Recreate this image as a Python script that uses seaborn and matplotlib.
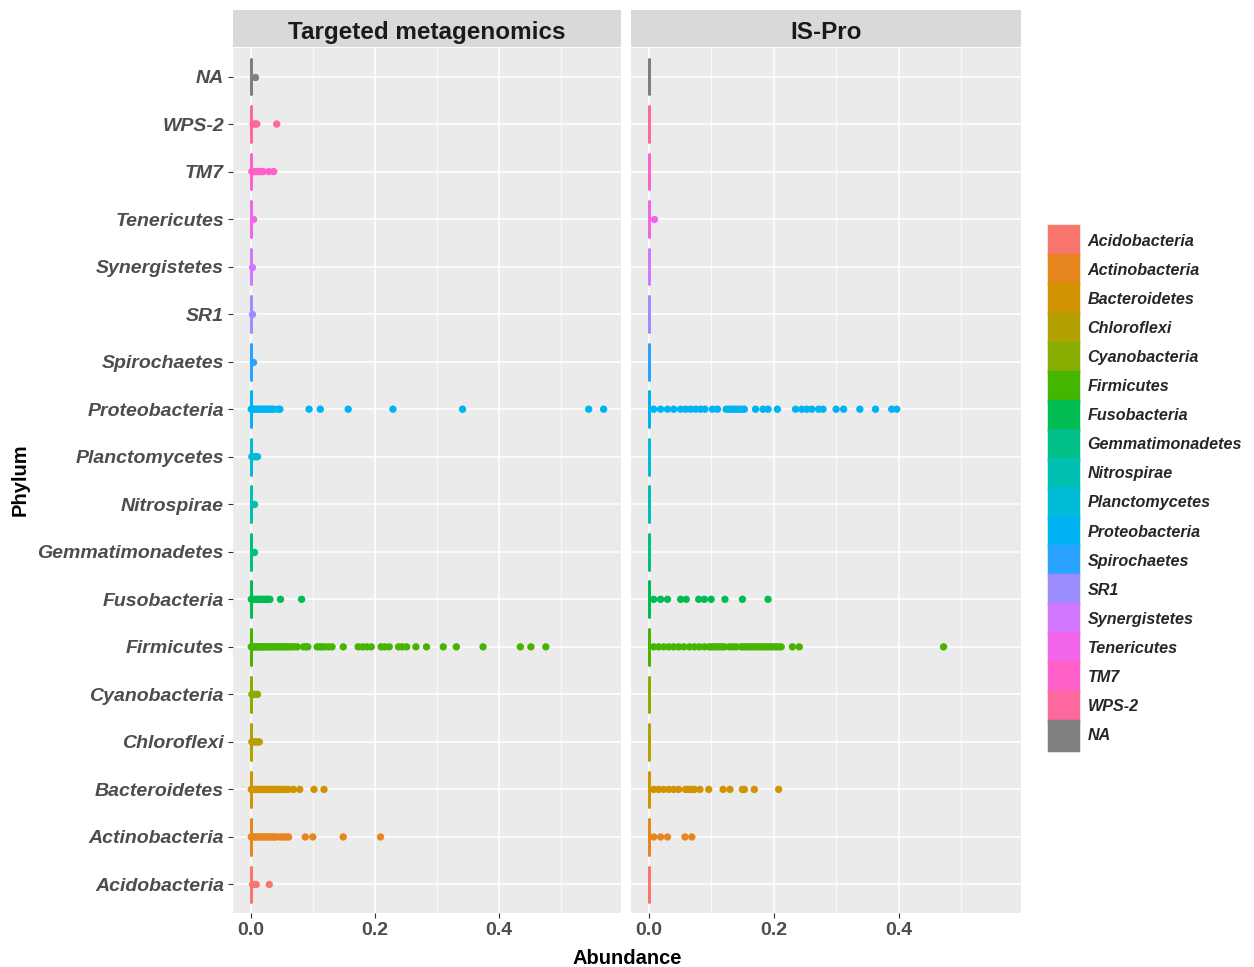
import numpy as np
import pandas as pd
import matplotlib
matplotlib.use("Agg")
import matplotlib.pyplot as plt
from matplotlib.patches import Patch
import seaborn as sns

# ---------------- data ----------------
phyla = ["Acidobacteria", "Actinobacteria", "Bacteroidetes", "Chloroflexi", "Cyanobacteria",
         "Firmicutes", "Fusobacteria", "Gemmatimonadetes", "Nitrospirae", "Planctomycetes",
         "Proteobacteria", "Spirochaetes", "SR1", "Synergistetes", "Tenericutes", "TM7",
         "WPS-2", "NA"]
methods = ["Targeted metagenomics", "IS-Pro"]
n_samples = 400  # samples per phylum per method; the rest are zero abundance

# Targeted metagenomics non-zero abundances
tm_acidobacteria = [0.003, 0.006, 0.009, 0.030]
tm_actinobacteria = [0.001, 0.004, 0.007, 0.010, 0.013, 0.016, 0.019, 0.022, 0.025, 0.028,
                     0.031, 0.034, 0.037, 0.040, 0.046, 0.050, 0.054, 0.058, 0.061,
                     0.088, 0.100, 0.149, 0.209]
tm_bacteroidetes = [0.001, 0.004, 0.007, 0.010, 0.013, 0.016, 0.019, 0.022, 0.025, 0.028,
                    0.031, 0.034, 0.037, 0.040, 0.043, 0.046, 0.050, 0.054, 0.058, 0.061,
                    0.069, 0.079, 0.102, 0.118]
tm_chloroflexi = [0.002, 0.005, 0.008, 0.011, 0.014]
tm_cyanobacteria = [0.002, 0.005, 0.008, 0.011]
tm_firmicutes = [0.001, 0.003, 0.005, 0.007, 0.009, 0.011, 0.013, 0.015, 0.017, 0.019,
                 0.021, 0.023, 0.026, 0.029, 0.032, 0.035, 0.038, 0.041, 0.044, 0.047,
                 0.050, 0.053, 0.056, 0.059, 0.062, 0.066, 0.070, 0.075, 0.085, 0.089,
                 0.092, 0.107, 0.111, 0.115, 0.119, 0.125, 0.131, 0.149, 0.173, 0.180,
                 0.187, 0.194, 0.210, 0.216, 0.223, 0.238, 0.244, 0.251, 0.266, 0.283,
                 0.310, 0.331, 0.374, 0.434, 0.451, 0.475]
tm_fusobacteria = [0.001, 0.004, 0.007, 0.010, 0.013, 0.016, 0.019, 0.022, 0.025, 0.028,
                   0.031, 0.048, 0.082]
tm_gemmatimonadetes = [0.005]
tm_nitrospirae = [0.005]
tm_planctomycetes = [0.002, 0.005, 0.008, 0.011]
tm_proteobacteria = [0.001, 0.004, 0.007, 0.010, 0.013, 0.016, 0.019, 0.022, 0.025, 0.028,
                     0.031, 0.034, 0.037, 0.044, 0.047, 0.094, 0.112, 0.157, 0.229, 0.341,
                     0.544, 0.568]
tm_spirochaetes = [0.003]
tm_sr1 = [0.002]
tm_synergistetes = [0.002]
tm_tenericutes = [0.003]
tm_tm7 = [0.002, 0.005, 0.008, 0.011, 0.014, 0.017, 0.020, 0.029, 0.037]
tm_wps2 = [0.004, 0.007, 0.010, 0.042]
tm_na = [0.007]

# IS-Pro non-zero abundances
ip_actinobacteria = [0.008, 0.019, 0.030, 0.058, 0.069]
ip_bacteroidetes = [0.008, 0.016, 0.024, 0.032, 0.040, 0.048, 0.059, 0.063, 0.067, 0.070,
                    0.073, 0.082, 0.096, 0.119, 0.130, 0.150, 0.153, 0.169, 0.208]
ip_firmicutes = [0.008, 0.016, 0.024, 0.032, 0.040, 0.048, 0.056, 0.065, 0.073, 0.081,
                 0.089, 0.097, 0.101, 0.105, 0.109, 0.113, 0.117, 0.121, 0.129, 0.134,
                 0.140, 0.148, 0.152, 0.156, 0.160, 0.164, 0.168, 0.172, 0.176, 0.180,
                 0.184, 0.188, 0.192, 0.196, 0.200, 0.204, 0.208, 0.212, 0.230, 0.241,
                 0.472]
ip_fusobacteria = [0.008, 0.019, 0.030, 0.051, 0.060, 0.080, 0.089, 0.100, 0.122, 0.150,
                   0.191]
ip_proteobacteria = [0.008, 0.019, 0.030, 0.040, 0.051, 0.059, 0.067, 0.075, 0.083, 0.090,
                     0.102, 0.110, 0.124, 0.128, 0.132, 0.136, 0.140, 0.144, 0.148, 0.153,
                     0.171, 0.183, 0.191, 0.206, 0.235, 0.245, 0.253, 0.261, 0.272, 0.279,
                     0.300, 0.312, 0.338, 0.363, 0.389, 0.397]
ip_tenericutes = [0.008]

tm_values = {
    "Acidobacteria": tm_acidobacteria, "Actinobacteria": tm_actinobacteria,
    "Bacteroidetes": tm_bacteroidetes, "Chloroflexi": tm_chloroflexi,
    "Cyanobacteria": tm_cyanobacteria, "Firmicutes": tm_firmicutes,
    "Fusobacteria": tm_fusobacteria, "Gemmatimonadetes": tm_gemmatimonadetes,
    "Nitrospirae": tm_nitrospirae, "Planctomycetes": tm_planctomycetes,
    "Proteobacteria": tm_proteobacteria, "Spirochaetes": tm_spirochaetes,
    "SR1": tm_sr1, "Synergistetes": tm_synergistetes, "Tenericutes": tm_tenericutes,
    "TM7": tm_tm7, "WPS-2": tm_wps2, "NA": tm_na,
}
ip_values = {
    "Actinobacteria": ip_actinobacteria, "Bacteroidetes": ip_bacteroidetes,
    "Firmicutes": ip_firmicutes, "Fusobacteria": ip_fusobacteria,
    "Proteobacteria": ip_proteobacteria, "Tenericutes": ip_tenericutes,
}

rows = []
for method, vals in zip(methods, [tm_values, ip_values]):
    for p in phyla:
        v = list(vals.get(p, []))
        v = v + [0.0] * (n_samples - len(v))
        for a in v:
            rows.append((method, p, a))
df = pd.DataFrame(rows, columns=["Method", "Phylum", "Abundance"])


# ---------------- colours (ggplot2 hue palette) ----------------
def hcl(h, c=100.0, l=65.0):
    hr = np.deg2rad(h)
    u, v = c * np.cos(hr), c * np.sin(hr)
    Xn, Yn, Zn = 95.047, 100.0, 108.883
    den = Xn + 15 * Yn + 3 * Zn
    un, vn = 4 * Xn / den, 9 * Yn / den
    Y = Yn * ((l + 16) / 116) ** 3
    up, vp = u / (13 * l) + un, v / (13 * l) + vn
    X = Y * 9 * up / (4 * vp)
    Z = Y * (12 - 3 * up - 20 * vp) / (4 * vp)
    X, Y, Z = X / 100, Y / 100, Z / 100
    rgb = np.array([3.2404542 * X - 1.5371385 * Y - 0.4985314 * Z,
                    -0.9692660 * X + 1.8760108 * Y + 0.0415560 * Z,
                    0.0556434 * X - 0.2040259 * Y + 1.0572252 * Z])
    rgb = np.clip(rgb, 0, 1)
    rgb = np.where(rgb <= 0.0031308, 12.92 * rgb, 1.055 * rgb ** (1 / 2.4) - 0.055)
    return tuple(np.clip(rgb, 0, 1))


hues = np.linspace(15, 375, len(phyla))[:-1]
palette = {p: hcl(h) for p, h in zip(phyla[:-1], hues)}
palette["NA"] = "#7F7F7F"

order = phyla[::-1]  # NA at top

# ---------------- figure ----------------
sns.set_theme(style="darkgrid")
plt.rcParams["font.family"] = ["Liberation Sans", "DejaVu Sans"]

fig = plt.figure(figsize=(12.54, 9.67), dpi=100)
W, H = 1254, 967
panel_top, panel_bot = 48, 913
panels_x = [(233, 621), (631, 1021)]

for i, (method, (x0, x1)) in enumerate(zip(methods, panels_x)):
    ax = fig.add_axes([x0 / W, 1 - panel_bot / H, (x1 - x0) / W, (panel_bot - panel_top) / H])
    sub = df[df["Method"] == method]
    sns.boxplot(data=sub, x="Abundance", y="Phylum", hue="Phylum", order=order,
                hue_order=order, palette=palette, fill=False, width=0.75,
                showfliers=False, linewidth=1.8, legend=False, ax=ax)
    nz = sub[sub["Abundance"] > 0]
    sns.stripplot(data=nz, x="Abundance", y="Phylum", hue="Phylum", order=order,
                  hue_order=order, palette=palette, jitter=False, size=5.3,
                  linewidth=0, legend=False, ax=ax)
    ax.set_xlim(-0.0284, 0.596)
    ax.set_ylim(len(order) - 0.4, -0.6)
    ax.set_facecolor("#EBEBEB")
    ax.set_xticks([0.0, 0.2, 0.4])
    ax.set_xticklabels(["0.0", "0.2", "0.4"])
    ax.set_xticks([0.1, 0.3, 0.5], minor=True)
    ax.grid(which="major", color="white", linewidth=1.1)
    ax.grid(which="minor", axis="x", color="white", linewidth=0.55)
    ax.set_axisbelow(True)
    for s in ax.spines.values():
        s.set_visible(False)
    ax.set_xlabel("")
    ax.set_ylabel("")
    ax.tick_params(axis="both", which="major", length=3.5, width=0.8, color="#333333",
                   labelcolor="#4D4D4D", pad=3, bottom=True, left=True)
    ax.tick_params(axis="both", which="minor", length=0)
    for t in ax.get_xticklabels():
        t.set_fontsize(14)
        t.set_fontweight("bold")
    if i == 0:
        for t in ax.get_yticklabels():
            t.set_fontsize(14)
            t.set_fontweight("bold")
            t.set_fontstyle("italic")
    else:
        ax.tick_params(axis="y", left=False, labelleft=False)

    # facet strip
    sax = fig.add_axes([x0 / W, 1 - 47 / H, (x1 - x0) / W, 37 / H])
    sax.set_facecolor("#D9D9D9")
    sax.grid(False)
    sax.set_xticks([])
    sax.set_yticks([])
    for s in sax.spines.values():
        s.set_visible(False)
    sax.text(0.5, 0.4, method, ha="center", va="center", fontsize=17.5,
             fontweight="bold", color="#1A1A1A", transform=sax.transAxes)

fig.text(627 / W, 1 - 958 / H, "Abundance", ha="center", va="center",
         fontsize=14.5, fontweight="bold", color="black")
fig.text(20 / W, 1 - 480 / H, "Phylum", ha="center", va="center", rotation=90,
         fontsize=14.5, fontweight="bold", color="black")

handles = [Patch(facecolor=palette[p], edgecolor=palette[p], linewidth=2.5,
                 joinstyle="round") for p in phyla]
leg = fig.legend(handles, phyla, loc="center left",
                 bbox_to_anchor=(1049 / W, 1 - 488 / H), frameon=False,
                 borderpad=0, borderaxespad=0, handlelength=1.8, handleheight=2.4,
                 labelspacing=0.0, handletextpad=0.6,
                 prop={"size": 11.6, "weight": "bold", "style": "italic"})

fig.savefig("out.png", dpi=100, facecolor="white")
